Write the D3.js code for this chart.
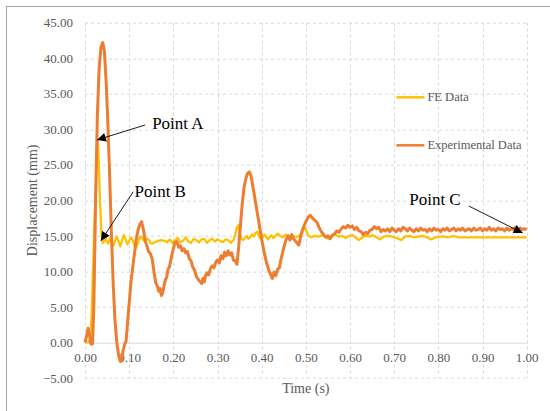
<!DOCTYPE html>
<html>
<head>
<meta charset="utf-8">
<script src="https://cdn.jsdelivr.net/npm/d3@7"></script>
<style>
  body { margin: 0; background: #fff; }
  text { font-family: "Liberation Serif", "Times New Roman", serif; }
</style>
</head>
<body>
<div class="chart"></div>
<script>
// Chart size
var svgWidth = 550;
var svgHeight = 411;

var margin = { top: 22.7, right: 23.3, bottom: 33, left: 85 };
var width = svgWidth - margin.left - margin.right;
var height = svgHeight - margin.top - margin.bottom;

// Tick values
var xTicks = [0, 0.1, 0.2, 0.3, 0.4, 0.5, 0.6, 0.7, 0.8, 0.9, 1.0];
var yTicks = [-5, 0, 5, 10, 15, 20, 25, 30, 35, 40, 45];

var seriesNames = ["FE Data", "Experimental Data"];
var seriesColors = ["#FFC000", "#ED7D31"];

// FE data [time, displacement]
var feData = [[0,0],[0.008,0],[0.012,0.5],[0.015,4],[0.018,10],[0.021,16],[0.024,21],[0.027,26],[0.029,28.3],[0.031,26],[0.034,20],[0.037,15.5],[0.040,14.0],[0.043,14.2],[0.046,14.8],[0.049,14.3],[0.052,13.9],[0.056,14.6],[0.060,14.2],[0.064,13.6],[0.068,14.3],[0.072,14.9],[0.076,14.2],[0.080,13.5],[0.084,14.4],[0.088,15.1],[0.092,14.5],[0.096,13.8],[0.100,14.3],[0.104,14.8],[0.108,14.4],[0.112,13.6],[0.116,13.3],[0.120,14.0],[0.124,14.8],[0.128,14.9],[0.132,14.4],[0.136,14.2],[0.140,14.6],[0.144,14.5],[0.148,14.0],[0.152,13.9],[0.158,14.1],[0.165,14.3],[0.172,14.4],[0.180,14.3],[0.186,14.1],[0.192,14.5],[0.198,14.0],[0.204,14.4],[0.210,14.7],[0.216,14.1],[0.222,14.3],[0.228,14.8],[0.234,14.2],[0.240,14.0],[0.246,14.6],[0.252,14.4],[0.258,14.1],[0.264,14.5],[0.270,14.6],[0.276,14.0],[0.282,14.4],[0.288,14.6],[0.294,14.2],[0.300,14.5],[0.306,14.3],[0.312,14.1],[0.318,14.5],[0.324,14.4],[0.330,14.0],[0.336,14.4],[0.340,15.2],[0.344,16.2],[0.347,16.5],[0.350,15.5],[0.354,14.6],[0.358,14.4],[0.362,14.7],[0.366,15.0],[0.370,14.6],[0.374,14.8],[0.378,15.2],[0.382,14.9],[0.386,15.4],[0.390,15.6],[0.394,14.9],[0.398,14.6],[0.402,14.8],[0.406,15.2],[0.410,14.9],[0.414,14.5],[0.418,14.8],[0.422,15.1],[0.426,14.7],[0.430,14.9],[0.436,15.3],[0.442,15.0],[0.448,14.8],[0.454,15.2],[0.460,14.8],[0.466,14.6],[0.472,15.0],[0.478,14.8],[0.484,15.0],[0.490,15.3],[0.494,15.8],[0.498,16.1],[0.502,15.6],[0.506,15.0],[0.512,14.8],[0.520,15.0],[0.530,14.9],[0.540,15.1],[0.550,14.6],[0.558,15.0],[0.566,15.2],[0.574,14.9],[0.582,15.0],[0.590,14.7],[0.598,15.0],[0.606,15.1],[0.614,14.7],[0.620,14.4],[0.628,14.8],[0.636,15.0],[0.644,14.9],[0.652,15.1],[0.660,14.8],[0.668,14.5],[0.676,14.9],[0.686,15.0],[0.696,14.9],[0.706,14.7],[0.716,14.4],[0.724,14.9],[0.734,15.0],[0.744,14.8],[0.754,14.9],[0.764,15.0],[0.774,14.8],[0.784,14.5],[0.794,14.8],[0.804,14.9],[0.814,14.9],[0.824,14.8],[0.834,15.0],[0.844,14.8],[0.860,14.8],[0.900,14.8],[0.950,14.8],[1.000,14.8]];

// Experimental data [time, displacement]
var expData = [[0,0],[0.004,1.0],[0.007,2.0],[0.010,1.2],[0.013,-0.2],[0.017,-0.2],[0.020,5],[0.024,20],[0.028,32],[0.032,38.5],[0.036,41.5],[0.040,42.2],[0.044,41],[0.048,36.5],[0.052,30.5],[0.056,23],[0.060,15],[0.064,8],[0.068,3],[0.072,0],[0.076,-1.8],[0.080,-2.7],[0.083,-2.6],[0.086,-1.2],[0.090,-0.2],[0.093,0.2],[0.096,2.5],[0.100,5.5],[0.104,8.5],[0.108,10.5],[0.112,12.5],[0.116,14.5],[0.120,15.8],[0.124,16.6],[0.128,17.0],[0.132,16.0],[0.136,14.4],[0.140,13.6],[0.144,12.8],[0.148,12.5],[0.152,11.8],[0.156,10.0],[0.160,8.4],[0.164,7.9],[0.167,7.2],[0.170,7.6],[0.173,6.6],[0.176,7.0],[0.179,8.0],[0.182,8.8],[0.185,9.2],[0.188,10.3],[0.191,10.6],[0.194,11.5],[0.197,12.4],[0.200,13.2],[0.204,14.1],[0.208,14.2],[0.212,13.4],[0.216,13.6],[0.220,12.9],[0.224,13.2],[0.228,12.6],[0.232,12.8],[0.236,11.8],[0.240,11.5],[0.244,10.6],[0.248,10.2],[0.252,9.3],[0.256,8.9],[0.260,8.6],[0.264,8.3],[0.267,9.0],[0.270,8.5],[0.273,9.4],[0.276,9.8],[0.280,9.5],[0.284,10.4],[0.288,10.8],[0.292,10.5],[0.296,11.3],[0.300,11.6],[0.304,11.2],[0.308,12.2],[0.312,11.8],[0.316,12.7],[0.320,12.2],[0.324,12.9],[0.328,12.3],[0.332,12.6],[0.336,11.6],[0.340,11.5],[0.344,11.0],[0.348,13.5],[0.352,16.5],[0.356,19.5],[0.360,21.8],[0.364,23.0],[0.368,23.8],[0.372,24.0],[0.376,23.4],[0.380,22.0],[0.384,20.5],[0.388,19.0],[0.392,17.5],[0.396,16.0],[0.400,14.5],[0.404,13.2],[0.408,12.0],[0.412,11.0],[0.416,10.2],[0.420,9.6],[0.424,9.0],[0.428,9.9],[0.432,9.4],[0.436,10.3],[0.440,10.5],[0.444,11.8],[0.448,12.8],[0.452,13.8],[0.456,14.6],[0.460,15.0],[0.464,14.4],[0.468,15.2],[0.472,14.6],[0.476,14.3],[0.480,14.0],[0.484,13.7],[0.488,14.8],[0.492,15.8],[0.496,16.4],[0.500,17.0],[0.505,17.6],[0.510,17.9],[0.515,17.5],[0.520,17.2],[0.525,16.9],[0.530,16.2],[0.535,15.6],[0.540,15.2],[0.545,14.8],[0.550,15.0],[0.555,14.6],[0.560,15.1],[0.565,15.3],[0.570,15.7],[0.575,15.5],[0.580,16.0],[0.585,16.3],[0.590,16.1],[0.595,16.5],[0.600,16.2],[0.605,16.4],[0.610,15.9],[0.615,16.2],[0.620,15.7],[0.625,15.6],[0.630,15.2],[0.635,15.5],[0.640,15.3],[0.645,15.8],[0.650,15.9],[0.655,16.3],[0.660,16.0],[0.665,16.2],[0.670,15.6],[0.675,15.9],[0.680,15.7],[0.685,16.0],[0.690,15.6],[0.695,16.1],[0.700,15.8],[0.705,15.6],[0.710,16.0],[0.715,15.7],[0.720,16.2],[0.725,16.0],[0.730,15.7],[0.735,16.1],[0.740,15.8],[0.745,15.6],[0.750,16.0],[0.755,15.7],[0.760,16.1],[0.765,15.8],[0.770,15.9],[0.775,15.6],[0.780,16.0],[0.785,15.7],[0.790,16.1],[0.795,15.8],[0.800,15.9],[0.805,15.6],[0.810,16.0],[0.815,15.8],[0.820,16.1],[0.825,15.7],[0.830,15.9],[0.835,16.1],[0.840,15.7],[0.845,16.0],[0.850,15.8],[0.855,16.1],[0.860,15.7],[0.865,15.9],[0.870,16.0],[0.875,15.7],[0.880,16.1],[0.885,15.8],[0.890,15.9],[0.895,16.1],[0.900,15.7],[0.905,16.0],[0.910,15.8],[0.915,16.2],[0.920,15.8],[0.925,16.0],[0.930,15.7],[0.935,16.1],[0.940,15.9],[0.945,16.0],[0.950,15.7],[0.955,16.1],[0.960,15.8],[0.965,16.0],[0.970,15.9],[0.975,16.2],[0.980,15.8],[0.985,16.1],[0.990,15.9],[0.995,16.0],[1.000,15.9]];

// Annotations: label, label position [t, y], arrow start [t, y], arrow tip [t, y]
var annotations = [
  { label: "Point A", at: [0.152, 30.8], from: [0.136, 30.6], to: [0.027, 28.5] },
  { label: "Point B", at: [0.112, 21.3], from: [0.109, 21.2], to: [0.036, 14.3] },
  { label: "Point C", at: [0.734, 20.1], from: [0.869, 19.2], to: [0.991, 15.4] }
];

var svg = d3.select(".chart")
  .append("svg")
  .attr("width", svgWidth)
  .attr("height", svgHeight);

// outer chart border (only top and left visible)
svg.append("rect")
  .attr("x", 6.5)
  .attr("y", 6.5)
  .attr("width", 600)
  .attr("height", 500)
  .attr("fill", "none")
  .attr("stroke", "#A6A6A6")
  .attr("stroke-width", 1);

svg.append("defs").append("marker")
  .attr("id", "arrow")
  .attr("viewBox", "0 0 10 10")
  .attr("refX", 10)
  .attr("refY", 5)
  .attr("markerWidth", 10)
  .attr("markerHeight", 9)
  .attr("markerUnits", "userSpaceOnUse")
  .attr("orient", "auto")
  .append("path")
  .attr("d", "M0,0 L10,5 L0,10 Z")
  .attr("fill", "#000");

var chartGroup = svg.append("g")
  .attr("transform", `translate(${margin.left}, ${margin.top})`);

var xScale = d3.scaleLinear().domain([0, 1]).range([0, width]);
var yScale = d3.scaleLinear().domain([-5, 45]).range([height, 0]);

// gridlines
chartGroup.append("g")
  .selectAll("line")
  .data(yTicks)
  .enter()
  .append("line")
  .attr("x1", 0)
  .attr("x2", width)
  .attr("y1", d => Math.round(yScale(d)) + 0.5)
  .attr("y2", d => Math.round(yScale(d)) + 0.5)
  .attr("stroke", "#D9D9D9")
  .attr("stroke-dasharray", d => d === 0 ? null : "3,3");

chartGroup.append("g")
  .selectAll("line")
  .data(xTicks)
  .enter()
  .append("line")
  .attr("x1", d => Math.round(xScale(d)) + 0.5)
  .attr("x2", d => Math.round(xScale(d)) + 0.5)
  .attr("y1", 0)
  .attr("y2", height)
  .attr("stroke", "#D9D9D9")
  .attr("stroke-dasharray", "3,3");

// y axis labels
var leftAxis = d3.axisLeft(yScale)
  .tickValues(yTicks)
  .tickFormat(d3.format(".2f"))
  .tickSize(0)
  .tickPadding(12);

var yAxis = chartGroup.append("g").call(leftAxis);
yAxis.select(".domain").remove();
yAxis.selectAll("text")
  .attr("fill", "#595959")
  .style("font-family", "'Liberation Serif', serif")
  .style("font-size", "13px");

// x axis labels, placed at y = 0
var bottomAxis = d3.axisBottom(xScale)
  .tickValues(xTicks)
  .tickFormat(d3.format(".2f"))
  .tickSize(0)
  .tickPadding(10);

var xAxis = chartGroup.append("g")
  .attr("transform", `translate(0, ${yScale(0)})`)
  .call(bottomAxis);
xAxis.select(".domain").remove();
xAxis.selectAll("text")
  .attr("fill", "#595959")
  .style("font-family", "'Liberation Serif', serif")
  .style("font-size", "13px");

// axis titles
chartGroup.append("text")
  .attr("x", width / 2)
  .attr("y", height + 15)
  .attr("text-anchor", "middle")
  .attr("fill", "#595959")
  .style("font-size", "14px")
  .text("Time (s)");

chartGroup.append("text")
  .attr("transform", "rotate(-90)")
  .attr("x", -height / 2)
  .attr("y", -48)
  .attr("text-anchor", "middle")
  .attr("fill", "#595959")
  .style("font-size", "14px")
  .text("Displacement (mm)");

// lines
var line = d3.line()
  .x(d => xScale(d[0]))
  .y(d => yScale(d[1]));

chartGroup.append("path")
  .datum(feData)
  .attr("d", line)
  .attr("fill", "none")
  .attr("stroke", seriesColors[0])
  .attr("stroke-width", 2.25)
  .attr("stroke-linejoin", "round");

chartGroup.append("path")
  .datum(expData)
  .attr("d", line)
  .attr("fill", "none")
  .attr("stroke", seriesColors[1])
  .attr("stroke-width", 3)
  .attr("stroke-linejoin", "round");

// legend
var legend = chartGroup.append("g")
  .attr("transform", `translate(${xScale(0.705)}, ${yScale(34.5)})`);

seriesNames.forEach(function(name, i) {
  var row = legend.append("g").attr("transform", `translate(0, ${i * 48})`);
  row.append("line")
    .attr("x1", 0).attr("x2", 28)
    .attr("stroke", seriesColors[i])
    .attr("stroke-width", 2.5);
  row.append("text")
    .attr("x", 31)
    .attr("y", 4)
    .attr("fill", "#595959")
    .style("font-size", "12.5px")
    .text(name);
});

// annotations
annotations.forEach(function(a) {
  chartGroup.append("line")
    .attr("x1", xScale(a.from[0]))
    .attr("y1", yScale(a.from[1]))
    .attr("x2", xScale(a.to[0]))
    .attr("y2", yScale(a.to[1]))
    .attr("stroke", "#000")
    .attr("stroke-width", 0.9)
    .attr("marker-end", "url(#arrow)");
  chartGroup.append("text")
    .attr("x", xScale(a.at[0]))
    .attr("y", yScale(a.at[1]) + 5.5)
    .attr("fill", "#000")
    .style("font-size", "17px")
    .text(a.label);
});
</script>
</body>
</html>
